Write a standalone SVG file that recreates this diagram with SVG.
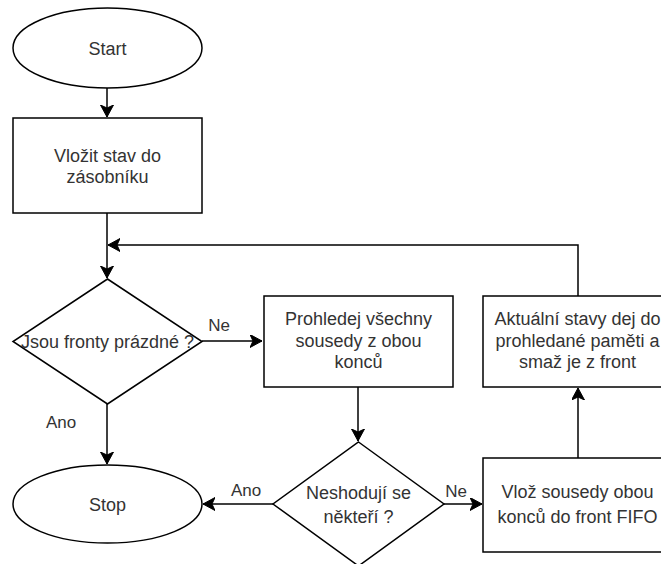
<svg xmlns="http://www.w3.org/2000/svg" width="661" height="564" viewBox="0 0 661 564">
  <style>
    .shape { fill: #ffffff; stroke: #000000; stroke-width: 1.5; }
    .edge { fill: none; stroke: #000000; stroke-width: 1.5; }
    .label { font-family: "Liberation Sans", Arial, sans-serif; font-size: 18px; fill: #333333; text-anchor: middle; }
    .elabel { font-family: "Liberation Sans", Arial, sans-serif; font-size: 17px; fill: #333333; text-anchor: middle; }
  </style>
  <defs>
    <marker id="arrow" markerUnits="userSpaceOnUse" markerWidth="14" markerHeight="14" refX="12" refY="6.5" orient="auto">
      <path d="M0,0 L12,6.5 L0,13 L3,6.5 Z" fill="#000000" stroke="#000000" stroke-width="1"/>
    </marker>
  </defs>
  <rect width="661" height="564" fill="#ffffff"/>

  <!-- connectors -->
  <g id="connectors">
    <path class="edge" d="M107,88 L107,117" marker-end="url(#arrow)"/>
    <path class="edge" d="M107,213 L107,278" marker-end="url(#arrow)"/>
    <path class="edge" d="M202,341 L262,341" marker-end="url(#arrow)"/>
    <path class="edge" d="M107,404 L107,464" marker-end="url(#arrow)"/>
    <path class="edge" d="M358,387 L358,441" marker-end="url(#arrow)"/>
    <path class="edge" d="M273,504 L203,504" marker-end="url(#arrow)"/>
    <path class="edge" d="M444,504 L482,504" marker-end="url(#arrow)"/>
    <path class="edge" d="M578,458 L578,388" marker-end="url(#arrow)"/>
    <path class="edge" d="M578,296 L578,245 L108,245" marker-end="url(#arrow)"/>
    <text class="elabel" x="219" y="331">Ne</text>
    <text class="elabel" x="61" y="428">Ano</text>
    <text class="elabel" x="246" y="496">Ano</text>
    <text class="elabel" x="456" y="497">Ne</text>
  </g>

  <g id="start">
    <ellipse class="shape" cx="107.5" cy="48" rx="94.5" ry="40"/>
    <text class="label" x="107.5" y="54.5">Start</text>
  </g>

  <g id="push-state">
    <rect class="shape" x="13" y="118" width="189" height="95"/>
    <text class="label" x="107.5" y="162">Vložit stav do</text>
    <text class="label" x="107.5" y="183">zásobníku</text>
  </g>

  <g id="queues-empty">
    <polygon class="shape" points="107.5,279 202,341.5 107.5,404 13,341.5"/>
    <text class="label" x="107.5" y="348">Jsou fronty prázdné ?</text>
  </g>

  <g id="search-neighbours">
    <rect class="shape" x="264" y="296" width="189" height="91"/>
    <text class="label" x="358.5" y="325">Prohledej všechny</text>
    <text class="label" x="358.5" y="347">sousedy z obou</text>
    <text class="label" x="358.5" y="368">konců</text>
  </g>

  <g id="stop">
    <ellipse class="shape" cx="107.5" cy="504" rx="94.5" ry="39"/>
    <text class="label" x="107.5" y="510.5">Stop</text>
  </g>

  <g id="mismatch">
    <polygon class="shape" points="358.5,442 444,504 358.5,566 273,504"/>
    <text class="label" x="358.5" y="499">Neshodují se</text>
    <text class="label" x="358.5" y="523">někteří ?</text>
  </g>

  <g id="enqueue">
    <rect class="shape" x="483" y="458" width="189" height="94"/>
    <text class="label" x="577.5" y="498">Vlož sousedy obou</text>
    <text class="label" x="577.5" y="523">konců do front FIFO</text>
  </g>

  <g id="mark-visited">
    <rect class="shape" x="483" y="296" width="189" height="91"/>
    <text class="label" x="577.5" y="325">Aktuální stavy dej do</text>
    <text class="label" x="577.5" y="347">prohledané paměti a</text>
    <text class="label" x="577.5" y="368">smaž je z front</text>
  </g>
</svg>
